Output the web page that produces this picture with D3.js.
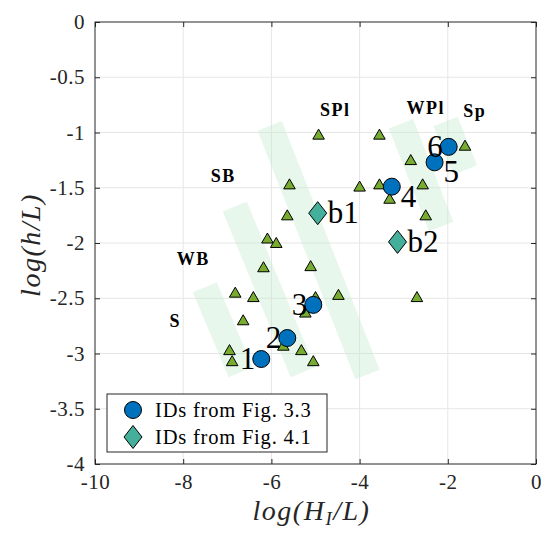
<!DOCTYPE html>
<html>
<head>
<meta charset="utf-8">
<script src="https://cdn.jsdelivr.net/npm/d3@7"></script>
<style>
  body { margin: 0; background: #fff; }
  text { font-family: "Liberation Serif", serif; fill: #262626; }
</style>
</head>
<body>
<script>
// triangles (all cases)
var triX = [-4.93, -3.55, -5.59, -4.0, -3.55, -2.57, -3.32, -2.84, -1.61, -2.50, -5.64, -6.09, -5.89, -6.18,
  -5.11, -2.70, -6.82, -6.41, -4.48, -5.0, -6.64, -5.23, -6.95, -6.89, -5.73, -5.32, -5.05];
var triY = [-1.03, -1.03, -1.48, -1.50, -1.48, -1.48, -1.61, -1.26, -1.13, -1.76, -1.76, -1.97, -2.01, -2.23,
  -2.22, -2.50, -2.46, -2.50, -2.48, -2.50, -2.71, -2.64, -2.98, -3.08, -2.94, -2.98, -3.08];

// IDs from Fig. 3.3
var circX = [-6.23, -5.64, -5.05, -3.27, -2.30, -1.98];
var circY = [-3.05, -2.86, -2.56, -1.49, -1.27, -1.13];
var circId = ["1", "2", "3", "4", "5", "6"];
var circSide = ["left", "left", "left", "below", "below", "left"];

// IDs from Fig. 4.1
var diaX = [-4.95, -3.14];
var diaY = [-1.73, -1.99];
var diaId = ["b1", "b2"];

// shaded bands (centre line ends)
var bandX1 = [-7.51, -6.83, -6.04, -3.06, -2.05];
var bandY1 = [-2.40, -1.67, -0.94, -0.92, -0.90];
var bandX2 = [-6.70, -5.29, -3.82, -2.15, -1.61];
var bandY2 = [-3.17, -3.17, -3.19, -1.85, -1.34];

// regime labels
var regName = ["SPl", "WPl", "Sp", "SB", "WB", "S"];
var regX = [-4.55, -2.5, -1.39, -7.09, -7.77, -8.18];
var regY = [-0.79, -0.78, -0.80, -1.39, -2.14, -2.70];

var xTicks = [-10, -8, -6, -4, -2, 0];
var yTicks = [0, -0.5, -1, -1.5, -2, -2.5, -3, -3.5, -4];

var margin = { top: 22, right: 5, bottom: 72, left: 95 },
  width = 541 - margin.left - margin.right,
  height = 536 - margin.top - margin.bottom;

var svg = d3.select("body").append("svg")
  .attr("width", 541)
  .attr("height", 536)
  .append("g")
  .attr("transform", "translate(" + margin.left + "," + margin.top + ")");

var x = d3.scaleLinear().domain([-10, 0]).range([0, width]);
var y = d3.scaleLinear().domain([-4, 0]).range([height, 0]);

var fmt = function (d) { return String(d); };

// grid
svg.append("g").selectAll("line").data(xTicks.slice(1, -1)).enter().append("line")
  .attr("x1", function (d) { return x(d); }).attr("x2", function (d) { return x(d); })
  .attr("y1", 0).attr("y2", height)
  .attr("stroke", "#e6e6e6").attr("stroke-width", 1);
svg.append("g").selectAll("line").data(yTicks.slice(1, -1)).enter().append("line")
  .attr("y1", function (d) { return y(d); }).attr("y2", function (d) { return y(d); })
  .attr("x1", 0).attr("x2", width)
  .attr("stroke", "#e6e6e6").attr("stroke-width", 1);

// bands
svg.append("g").selectAll("line").data(bandX1).enter().append("line")
  .attr("x1", function (d) { return x(d); })
  .attr("y1", function (d, i) { return y(bandY1[i]); })
  .attr("x2", function (d, i) { return x(bandX2[i]); })
  .attr("y2", function (d, i) { return y(bandY2[i]); })
  .attr("stroke", "#c4ead0")
  .attr("stroke-opacity", 0.4)
  .attr("stroke-width", 26);

// regime labels
svg.append("g").selectAll("text").data(regName).enter().append("text")
  .attr("x", function (d, i) { return x(regX[i]); })
  .attr("y", function (d, i) { return y(regY[i]); })
  .attr("dy", "0.35em")
  .attr("text-anchor", "middle")
  .style("font-weight", "bold")
  .style("font-size", "18px")
  .style("letter-spacing", "1.5px")
  .style("fill", "#000")
  .text(function (d) { return d; });

// triangles
svg.append("g").selectAll("path").data(triX).enter().append("path")
  .attr("d", d3.symbol().type(d3.symbolTriangle).size(58))
  .attr("transform", function (d, i) { return "translate(" + x(d) + "," + y(triY[i]) + ")"; })
  .attr("fill", "#77ac30")
  .attr("stroke", "#000")
  .attr("stroke-width", 1);

// diamonds
var diamond = function (cx, cy) {
  return "M" + cx + "," + (cy - 11.5) + "L" + (cx + 9) + "," + cy + "L" + cx + "," + (cy + 11.5) +
    "L" + (cx - 9) + "," + cy + "Z";
};
svg.append("g").selectAll("path").data(diaX).enter().append("path")
  .attr("d", function (d, i) { return diamond(x(d), y(diaY[i])); })
  .attr("fill", "#44b09c")
  .attr("stroke", "#000")
  .attr("stroke-width", 1);
svg.append("g").selectAll("text").data(diaId).enter().append("text")
  .attr("x", function (d, i) { return x(diaX[i]) + 10; })
  .attr("y", function (d, i) { return y(diaY[i]) + 10; })
  .style("font-size", "31px")
  .style("fill", "#000")
  .text(function (d) { return d; });

// circles
svg.append("g").selectAll("circle").data(circX).enter().append("circle")
  .attr("cx", function (d) { return x(d); })
  .attr("cy", function (d, i) { return y(circY[i]); })
  .attr("r", 8.5)
  .attr("fill", "#0072bd")
  .attr("stroke", "#000")
  .attr("stroke-width", 1);
svg.append("g").selectAll("text").data(circId).enter().append("text")
  .attr("x", function (d, i) {
    return circSide[i] == "left" ? x(circX[i]) - 6 : x(circX[i]) + 9;
  })
  .attr("y", function (d, i) {
    return circSide[i] == "left" ? y(circY[i]) + 10 : y(circY[i]) + 20;
  })
  .attr("text-anchor", function (d, i) { return circSide[i] == "left" ? "end" : "start"; })
  .style("font-size", "31px")
  .style("fill", "#000")
  .text(function (d) { return d; });

// axes (box with inward ticks)
var ax = svg.append("g");
ax.append("rect").attr("width", width).attr("height", height)
  .attr("fill", "none").attr("stroke", "#262626").attr("stroke-width", 1);
ax.append("g").attr("transform", "translate(0," + height + ")")
  .call(d3.axisBottom(x).tickValues(xTicks).tickFormat(fmt).tickSizeInner(-5).tickSizeOuter(0).tickPadding(10))
  .call(function (g) { g.select(".domain").remove(); })
  .style("font-size", "21px");
ax.append("g")
  .call(d3.axisTop(x).tickValues(xTicks).tickSizeInner(-5).tickSizeOuter(0).tickFormat(""))
  .call(function (g) { g.select(".domain").remove(); });
ax.append("g")
  .call(d3.axisLeft(y).tickValues(yTicks).tickFormat(fmt).tickSizeInner(-5).tickSizeOuter(0).tickPadding(10))
  .call(function (g) { g.select(".domain").remove(); })
  .style("font-size", "21px");
ax.append("g").attr("transform", "translate(" + width + ",0)")
  .call(d3.axisRight(y).tickValues(yTicks).tickSizeInner(-5).tickSizeOuter(0).tickFormat(""))
  .call(function (g) { g.select(".domain").remove(); });
ax.selectAll(".tick line").attr("stroke", "#262626");
ax.selectAll(".tick text").style("font-family", "Liberation Serif").style("letter-spacing", "0.5px").attr("fill", "#262626");

// axis labels
var xl = svg.append("text")
  .attr("x", width / 2 - 4)
  .attr("y", height + 56)
  .attr("text-anchor", "middle")
  .style("font-size", "28px")
  .style("letter-spacing", "1.5px")
  .style("font-style", "italic");
xl.append("tspan").text("log(H");
xl.append("tspan").attr("baseline-shift", "-25%").style("font-size", "19px").text("I");
xl.append("tspan").text("/L)");

svg.append("text")
  .attr("transform", "rotate(-90)")
  .attr("x", -(245 - margin.top))
  .attr("y", 30 - margin.left)
  .attr("dy", "0.35em")
  .attr("text-anchor", "middle")
  .style("font-size", "28px")
  .style("letter-spacing", "1.5px")
  .style("font-style", "italic")
  .text("log(h/L)");

// legend
var lg = svg.append("g").attr("transform", "translate(" + (107 - margin.left) + "," + (394 - margin.top) + ")");
lg.append("rect").attr("width", 220).attr("height", 58)
  .attr("fill", "#fff").attr("stroke", "#262626").attr("stroke-width", 1);
lg.append("circle").attr("cx", 26).attr("cy", 16).attr("r", 8.5)
  .attr("fill", "#0072bd").attr("stroke", "#000");
lg.append("path").attr("d", diamond(26, 43))
  .attr("fill", "#44b09c").attr("stroke", "#000");
lg.append("text").attr("x", 48).attr("y", 16).attr("dy", "0.35em")
  .style("font-size", "20.5px").style("letter-spacing", "0.8px").style("fill", "#000").text("IDs from Fig. 3.3");
lg.append("text").attr("x", 48).attr("y", 43).attr("dy", "0.35em")
  .style("font-size", "20.5px").style("letter-spacing", "0.8px").style("fill", "#000").text("IDs from Fig. 4.1");
</script>
</body>
</html>
